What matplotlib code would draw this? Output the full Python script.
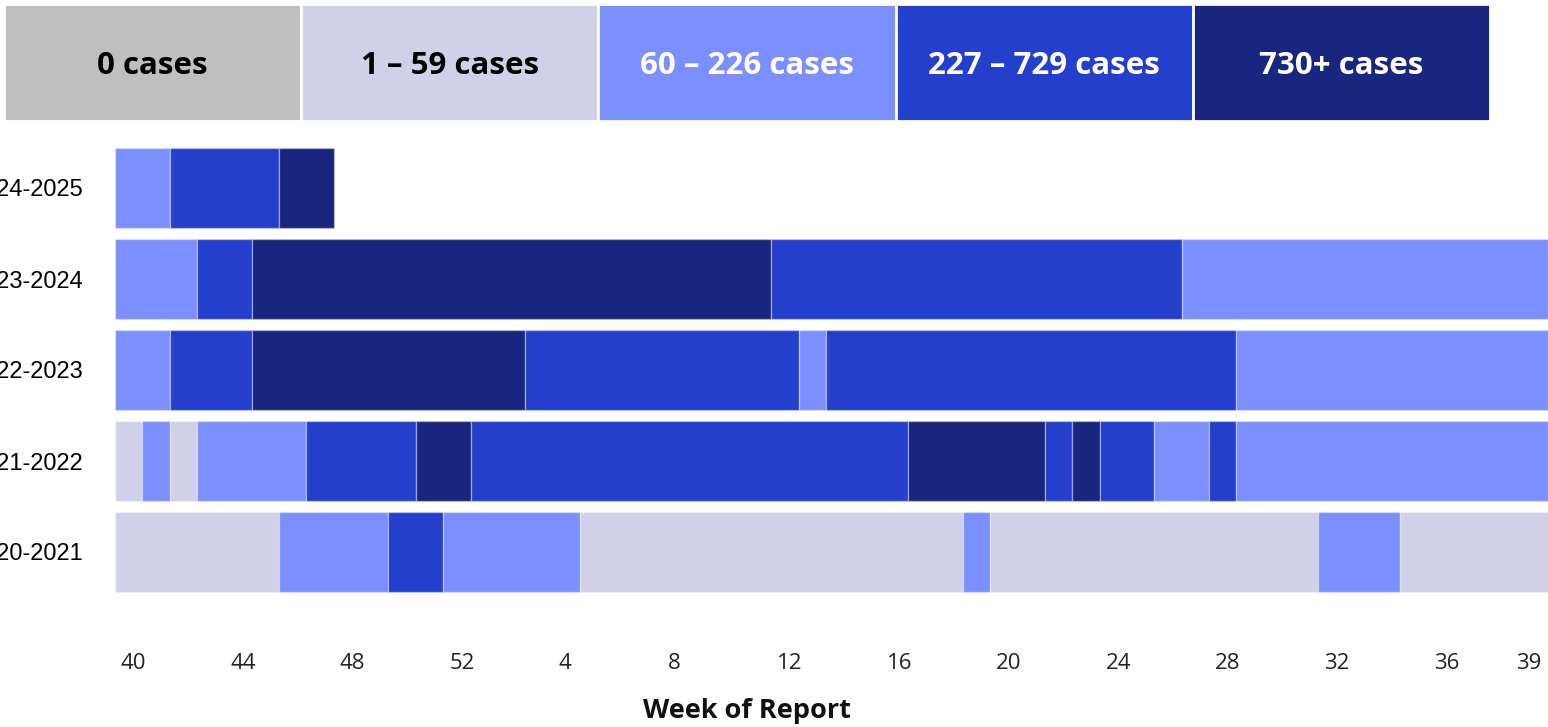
import matplotlib
matplotlib.use("Agg")
import matplotlib.pyplot as plt
import matplotlib.transforms as mtransforms
from itertools import groupby

# ---------------- data ----------------
legend_labels = ["0 cases", "1 – 59 cases", "60 – 226 cases", "227 – 729 cases", "730+ cases"]
level_colors = ["#BFBFBF", "#D0D0E8", "#7B8FFF", "#253FCD", "#18267F"]
legend_text_colors = ["black", "black", "white", "white", "white"]

weeks = list(range(40, 53)) + list(range(1, 40))
tick_weeks = [40, 44, 48, 52, 4, 8, 12, 16, 20, 24, 28, 32, 36, 39]

seasons = ["2024-2025", "2023-2024", "2022-2023", "2021-2022", "2020-2021"]

levels_2024_2025 = [2, 2, 3, 3, 3, 3, 4, 4]
levels_2023_2024 = ([2, 2, 2, 3, 3]
                    + [4, 4, 4, 4, 4, 4, 4, 4, 4, 4, 4, 4, 4, 4, 4, 4, 4, 4, 4]
                    + [3, 3, 3, 3, 3, 3, 3, 3, 3, 3, 3, 3, 3, 3, 3]
                    + [2, 2, 2, 2, 2, 2, 2, 2, 2, 2, 2, 2, 2])
levels_2022_2023 = ([2, 2, 3, 3, 3]
                    + [4, 4, 4, 4, 4, 4, 4, 4, 4, 4]
                    + [3, 3, 3, 3, 3, 3, 3, 3, 3, 3]
                    + [2]
                    + [3, 3, 3, 3, 3, 3, 3, 3, 3, 3, 3, 3, 3, 3, 3]
                    + [2, 2, 2, 2, 2, 2, 2, 2, 2, 2, 2])
levels_2021_2022 = ([1, 2, 1, 2, 2, 2, 2, 3, 3, 3, 3, 4, 4]
                    + [3, 3, 3, 3, 3, 3, 3, 3, 3, 3, 3, 3, 3, 3, 3, 3]
                    + [4, 4, 4, 4, 4, 3, 4, 3, 3, 2, 2, 3]
                    + [2, 2, 2, 2, 2, 2, 2, 2, 2, 2, 2])
levels_2020_2021 = ([1, 1, 1, 1, 1, 1, 2, 2, 2, 2, 3, 3, 2, 2, 2, 2, 2]
                    + [1, 1, 1, 1, 1, 1, 1, 1, 1, 1, 1, 1, 1, 1]
                    + [2]
                    + [1, 1, 1, 1, 1, 1, 1, 1, 1, 1, 1, 1]
                    + [2, 2, 2, 1, 1, 1, 1, 1])

season_levels = [levels_2024_2025, levels_2023_2024, levels_2022_2023,
                 levels_2021_2022, levels_2020_2021]

# ---------------- figure ----------------
W, H = 1548, 727
fig = plt.figure(figsize=(W / 100, H / 100), dpi=100)

# main axes
ax_left, ax_right = 115 / W, 1548 / W
ax_top, ax_bottom = 142.5 / H, 597.5 / H
ax = fig.add_axes([ax_left, 1 - ax_bottom, ax_right - ax_left, ax_bottom - ax_top])
n_weeks = len(weeks)
ax.set_xlim(0, n_weeks + 0.4)
ax.set_ylim(len(seasons) - 0.5, -0.5)
xmax = ax.get_xlim()[1]

for row, levels in enumerate(season_levels):
    start = 0
    for lvl, grp in groupby(levels):
        length = len(list(grp))
        end = start + length
        width = (xmax - start) if end == n_weeks else length
        ax.barh(row, width, left=start, height=0.87, color=level_colors[lvl],
                edgecolor=(1, 1, 1, 0.35), linewidth=1.0)
        start = end

ax.set_yticks(range(len(seasons)))
ax.set_yticklabels(seasons, family=["Liberation Sans", "DejaVu Sans"], fontsize=17, color="black")
tick_pos = [weeks.index(w) + 0.5 for w in tick_weeks]
ax.set_xticks(tick_pos)
ax.set_xticklabels([str(w) for w in tick_weeks], family=["Open Sans", "DejaVu Sans"],
                   fontsize=16, color="#222222")
ax.tick_params(axis="x", length=0, pad=40)
ax.tick_params(axis="y", length=0, pad=22.5)
for lab in ax.get_xticklabels():
    dx = 5 if len(lab.get_text()) == 2 else -1
    lab.set_transform(lab.get_transform() + mtransforms.ScaledTranslation(dx / 100, 0, fig.dpi_scale_trans))
for s in ax.spines.values():
    s.set_visible(False)

fig.text(747 / W, 1 - 711 / H, "Week of Report", ha="center", va="center",
         family=["Open Sans", "DejaVu Sans"], fontweight="bold", fontsize=19.5, color="#111111")

# legend
lg_left, lg_right = 4 / W, 1490 / W
lg_top, lg_bottom = 4 / H, 121 / H
lax = fig.add_axes([lg_left, 1 - lg_bottom, lg_right - lg_left, lg_bottom - lg_top])
lax.set_xlim(0, len(legend_labels))
lax.set_ylim(0, 1)
lax.axis("off")
for i, (lab, col, tc) in enumerate(zip(legend_labels, level_colors, legend_text_colors)):
    lax.bar(i, 1, width=1, align="edge", color=col, edgecolor="white", linewidth=2)
    lax.text(i + 0.5, 0.47, lab, ha="center", va="center", color=tc,
             family=["Open Sans", "DejaVu Sans"], fontweight="bold", fontsize=22.5)

fig.savefig("out.png", dpi=100)
